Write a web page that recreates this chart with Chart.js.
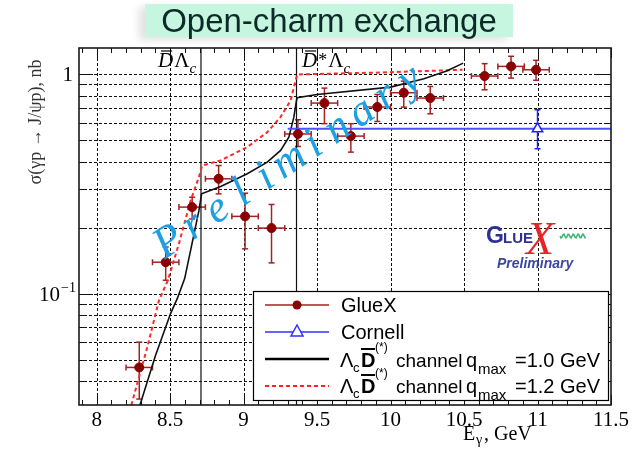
<!DOCTYPE html>
<html>
<head>
<meta charset="utf-8">
<script src="https://cdn.jsdelivr.net/npm/chart.js@4.4.0/dist/chart.umd.min.js"></script>
<style>
  html, body { margin: 0; padding: 0; background: #fff; }
  #wrap { position: relative; width: 637px; height: 450px; }
  canvas { position: absolute; left: 0; top: 0; }
  #title {
    position: absolute; left: 145px; top: 4px; width: 368px; height: 33px;
    background: #c6f6e0; color: #0c2b28; text-align: center;
    font: 33px "Liberation Sans", Arial, sans-serif; line-height: 33px;
    box-shadow: -6px 3px 8px rgba(0,0,0,0.12);
  }
</style>
</head>
<body>
<div id="wrap">
  <canvas id="chart" width="637" height="450"></canvas>
  <div id="title">Open-charm exchange</div>
</div>
<script>
// axis ranges and ticks
const xRange = [7.88, 11.5];
const yRange = [0.031, 1.32];
const xTickVals = [8, 8.5, 9, 9.5, 10, 10.5, 11, 11.5];
const xGridVals = [8, 8.5, 9, 9.5, 10, 10.5, 11];
const yGridVals = [0.04, 0.05, 0.06, 0.07, 0.08, 0.09, 0.1, 0.2, 0.3, 0.4, 0.5, 0.6, 0.7, 0.8, 0.9, 1];

// GlueX points (E, sigma, lower / upper error ends)
const gluexE     = [8.29, 8.47, 8.65, 8.83, 9.01, 9.19, 9.37, 9.55, 9.73, 9.91, 10.09, 10.27, 10.64, 10.82, 10.99];
const gluexSigma = [0.046, 0.139, 0.248, 0.334, 0.225, 0.199, 0.535, 0.74, 0.523, 0.71, 0.825, 0.78, 0.983, 1.088, 1.05];
const gluexLo    = [0.033, 0.115, 0.219, 0.285, 0.160, 0.138, 0.469, 0.596, 0.442, 0.61, 0.709, 0.661, 0.851, 0.962, 0.94];
const gluexHi    = [0.060, 0.163, 0.275, 0.384, 0.287, 0.255, 0.621, 0.866, 0.596, 0.81, 0.932, 0.881, 1.12, 1.21, 1.16];
const gluexEErr  = 0.09;

// Cornell point and its level line
const cornellE = [11.0];
const cornellSigma = [0.565];
const cornellLo = [0.458];
const cornellHi = [0.69];
const cornellLineE = [9.3, 11.5];

// model curves
const model10E = [8.295, 8.40, 8.503, 8.549, 8.599, 8.639, 8.696, 8.714, 8.844, 9.025, 9.161, 9.252, 9.308, 9.342, 9.36, 9.365, 9.5, 10.0, 10.227, 10.386, 10.494];
const model10S = [0.031, 0.052, 0.081, 0.095, 0.117, 0.157, 0.239, 0.285, 0.308, 0.352, 0.398, 0.45, 0.517, 0.638, 0.76, 0.783, 0.81, 0.875, 0.956, 1.04, 1.126];
const model12E = [8.236, 8.345, 8.424, 8.485, 8.56, 8.64, 8.696, 8.718, 8.844, 9.025, 9.161, 9.252, 9.32, 9.342, 9.365, 9.932, 10.49];
const model12S = [0.031, 0.057, 0.093, 0.115, 0.169, 0.266, 0.34, 0.384, 0.405, 0.466, 0.545, 0.64, 0.76, 0.875, 1.0, 1.02, 1.05];

// thresholds
const thresholdE = [8.71, 9.36];

const toPts = (xs, ys) => xs.map((x, i) => ({ x: x, y: ys[i] }));

const SERIF = '"Liberation Serif", "Times New Roman", serif';
const SANS = '"Liberation Sans", Arial, sans-serif';

function seg(ctx, x0, y0, x1, y1) {
  ctx.beginPath(); ctx.moveTo(x0, y0); ctx.lineTo(x1, y1); ctx.stroke();
}

function errorBars(ctx, x, y, es, ss, lo, hi, dx, color) {
  ctx.strokeStyle = color; ctx.lineWidth = 1.5; ctx.setLineDash([]);
  es.forEach((e, i) => {
    const px = x.getPixelForValue(e), py = y.getPixelForValue(ss[i]);
    const y0 = y.getPixelForValue(lo[i]), y1 = y.getPixelForValue(hi[i]);
    seg(ctx, px, y0, px, y1);
    seg(ctx, px - 3, y0, px + 3, y0);
    seg(ctx, px - 3, y1, px + 3, y1);
    if (dx > 0) {
      const x0 = x.getPixelForValue(e - dx), x1 = x.getPixelForValue(e + dx);
      seg(ctx, x0, py, x1, py);
      seg(ctx, x0, py - 3, x0, py + 3);
      seg(ctx, x1, py - 3, x1, py + 3);
    }
  });
}

const decor = {
  id: 'decor',
  beforeDatasetsDraw(chart) {
    const { ctx, chartArea: a, scales: { x, y } } = chart;
    ctx.save();
    // dashed grid
    ctx.strokeStyle = '#111'; ctx.lineWidth = 1; ctx.setLineDash([3, 2]);
    xGridVals.forEach(v => {
      const px = Math.round(x.getPixelForValue(v)) + 0.5;
      seg(ctx, px, a.top, px, a.bottom);
    });
    yGridVals.forEach(v => {
      const py = Math.round(y.getPixelForValue(v)) + 0.5;
      seg(ctx, a.left, py, a.right, py);
    });
    ctx.setLineDash([]);
    // ticks on the frame
    ctx.strokeStyle = '#111'; ctx.lineWidth = 1;
    for (let k = 79; k <= 115; k++) {
      const v = k / 10;
      const px = Math.round(x.getPixelForValue(v)) + 0.5;
      const len = (k % 5 === 0) ? 10 : 5;
      seg(ctx, px, a.bottom, px, a.bottom - len);
      seg(ctx, px, a.top, px, a.top + len);
    }
    yGridVals.forEach(v => {
      const py = Math.round(y.getPixelForValue(v)) + 0.5;
      const len = (v === 1 || v === 0.1) ? 14 : 7;
      seg(ctx, a.left, py, a.left + len, py);
      seg(ctx, a.right, py, a.right - len, py);
    });
    // error bars
    errorBars(ctx, x, y, gluexE, gluexSigma, gluexLo, gluexHi, gluexEErr, '#a52222');
    errorBars(ctx, x, y, cornellE, cornellSigma, cornellLo, cornellHi, 0, '#2020ff');
    ctx.restore();
  },
  afterDraw(chart) {
    const { ctx, chartArea: a, scales: { x, y } } = chart;
    ctx.save();
    // frame
    ctx.strokeStyle = '#1a1a1a'; ctx.lineWidth = 1.6;
    ctx.strokeRect(a.left, a.top, a.right - a.left, a.bottom - a.top);

    // y tick labels
    ctx.fillStyle = '#000'; ctx.textBaseline = 'alphabetic';
    ctx.font = '21px ' + SERIF; ctx.textAlign = 'right';
    ctx.fillText('1', 73, y.getPixelForValue(1) + 7);
    const p1 = y.getPixelForValue(0.1) + 7;
    ctx.font = '14px ' + SERIF;
    ctx.fillText('\u22121', 76, p1 - 9);
    const supW = ctx.measureText('\u22121').width;
    ctx.font = '21px ' + SERIF;
    ctx.fillText('10', 76 - supW - 1, p1);

    // axis titles
    ctx.textAlign = 'left';
    ctx.font = '20px ' + SERIF;
    ctx.fillText('E', 463, 440);
    ctx.font = '14px ' + SERIF;
    ctx.fillText('\u03b3', 476, 444);
    ctx.font = '20px ' + SERIF;
    ctx.fillText(', GeV', 484, 440);

    ctx.save();
    ctx.translate(41, 122); ctx.rotate(-Math.PI / 2);
    ctx.textAlign = 'center'; ctx.fillStyle = '#333';
    ctx.font = '18px ' + SERIF;
    ctx.fillText('\u03c3(\u03b3p \u2192 J/\u03c8p), nb', 0, 0);
    ctx.restore();

    // threshold labels
    ctx.fillStyle = '#000';
    const thrLabel = (x0, star) => {
      ctx.font = 'italic 21px ' + SERIF;
      ctx.fillText('D', x0, 67);
      const dw = ctx.measureText('D').width;
      ctx.lineWidth = 1.2; ctx.strokeStyle = '#000';
      seg(ctx, x0 + 3, 51, x0 + dw - 1, 51);
      let cx = x0 + dw + 1;
      if (star) {
        ctx.font = '18px ' + SERIF;
        ctx.fillText('*', cx, 66);
        cx += ctx.measureText('*').width + 1;
      }
      ctx.font = '21px ' + SERIF;
      ctx.fillText('\u039b', cx, 67);
      cx += ctx.measureText('\u039b').width;
      ctx.font = 'italic 15px ' + SERIF;
      ctx.fillText('c', cx, 73);
    };
    thrLabel(158, false);
    thrLabel(302, true);

    // legend box
    const lb = { l: 253, t: 291, r: 608, b: 400 };
    ctx.fillStyle = '#fff';
    ctx.fillRect(lb.l, lb.t, lb.r - lb.l, lb.b - lb.t);
    ctx.strokeStyle = '#000'; ctx.lineWidth = 1.2;
    ctx.strokeRect(lb.l + 0.5, lb.t + 0.5, lb.r - lb.l, lb.b - lb.t);

    const symL = 265, symR = 329, symC = 297;
    // GlueX
    ctx.strokeStyle = '#a52222'; ctx.lineWidth = 1.5;
    seg(ctx, symL, 305, symR, 305);
    ctx.fillStyle = '#8b0000';
    ctx.beginPath(); ctx.arc(symC, 305, 4.5, 0, Math.PI * 2); ctx.fill();
    // Cornell
    ctx.strokeStyle = '#3030ff';
    seg(ctx, symL, 332, symR, 332);
    ctx.fillStyle = '#fff';
    ctx.beginPath(); ctx.moveTo(symC, 325); ctx.lineTo(symC + 6, 336); ctx.lineTo(symC - 6, 336); ctx.closePath();
    ctx.fill(); ctx.lineWidth = 1.5; ctx.stroke();
    // model lines
    ctx.strokeStyle = '#000'; ctx.lineWidth = 2.5;
    seg(ctx, symL, 359, symR, 359);
    ctx.strokeStyle = '#ff2020'; ctx.lineWidth = 2; ctx.setLineDash([4, 3]);
    seg(ctx, symL, 386, symR, 386);
    ctx.setLineDash([]);

    ctx.fillStyle = '#000'; ctx.textAlign = 'left';
    ctx.font = '20px ' + SANS;
    ctx.fillText('GlueX', 341, 312);
    ctx.fillText('Cornell', 341, 339);
    const modelRow = (base, q) => {
      ctx.font = '20px ' + SANS;
      ctx.fillText('\u039b', 340, base);
      ctx.font = '13px ' + SANS;
      ctx.fillText('c', 353, base + 5);
      ctx.font = 'bold 20px ' + SANS;
      ctx.fillText('D', 361, base);
      ctx.lineWidth = 2; ctx.strokeStyle = '#000';
      seg(ctx, 361, base - 18, 375, base - 18);
      ctx.font = '12px ' + SANS;
      ctx.fillText('(*)', 375, base - 16);
      ctx.font = '19px ' + SANS;
      ctx.fillText('channel', 396, base);
      ctx.font = '20px ' + SANS;
      ctx.fillText('q', 466, base);
      ctx.font = '15px ' + SANS;
      ctx.fillText('max', 478, base + 7);
      ctx.font = '20px ' + SANS;
      ctx.fillText('=' + q + ' GeV', 515, base);
    };
    modelRow(367, '1.0');
    modelRow(393, '1.2');

    // GlueX logo
    ctx.fillStyle = '#2e3192';
    ctx.font = 'bold 23px ' + SANS;
    ctx.fillText('G', 486, 243);
    ctx.font = 'bold 15px ' + SANS;
    ctx.fillText('LUE', 503, 243);
    ctx.strokeStyle = '#3cb371'; ctx.lineWidth = 1.5;
    ctx.beginPath();
    for (let k = 0; k <= 26; k++) {
      const px = 560 + k, py = 236 + 2 * Math.sin(k * 1.3);
      if (k === 0) ctx.moveTo(px, py); else ctx.lineTo(px, py);
    }
    ctx.stroke();
    ctx.fillStyle = '#e4242a';
    ctx.font = 'italic 46px ' + SERIF;
    ctx.fillText('X', 526, 254);
    ctx.fillStyle = '#3a47a0';
    ctx.font = 'italic bold 14px ' + SANS;
    ctx.fillText('Preliminary', 497, 268);

    // Preliminary watermark
    ctx.save();
    ctx.translate(176, 252);
    ctx.rotate(-34 * Math.PI / 180);
    ctx.fillStyle = '#1c9fe4';
    ctx.font = 'italic 44px ' + SERIF;
    ctx.textAlign = 'center';
    'Preliminary'.split('').forEach((ch, i) => ctx.fillText(ch, i * 29, 0));
    ctx.restore();

    ctx.restore();
  }
};

new Chart(document.getElementById('chart'), {
  type: 'scatter',
  data: {
    datasets: [
      {
        label: 'GlueX', data: toPts(gluexE, gluexSigma), order: 0,
        pointRadius: 4.5, backgroundColor: '#8b0000', borderColor: '#8b0000', showLine: false
      },
      {
        label: 'Cornell', data: toPts(cornellE, cornellSigma), order: 1,
        pointStyle: 'triangle', pointRadius: 6, borderWidth: 1.5,
        backgroundColor: '#fff', borderColor: '#2020ff', showLine: false
      },
      {
        label: 'Cornell level', data: toPts(cornellLineE, cornellLineE.map(() => cornellSigma[0])), order: 2,
        showLine: true, pointRadius: 0, borderColor: '#5050ff', borderWidth: 2
      },
      {
        label: 'qmax=1.0', data: toPts(model10E, model10S), order: 3,
        showLine: true, pointRadius: 0, borderColor: '#111', borderWidth: 1.6, tension: 0
      },
      {
        label: 'qmax=1.2', data: toPts(model12E, model12S), order: 4,
        showLine: true, pointRadius: 0, borderColor: '#ff2828', borderWidth: 2, borderDash: [4, 3], tension: 0
      },
      {
        label: 'thr1', data: toPts([thresholdE[0], thresholdE[0]], yRange), order: 5,
        showLine: true, pointRadius: 0, borderColor: '#111', borderWidth: 1.2
      },
      {
        label: 'thr2', data: toPts([thresholdE[1], thresholdE[1]], yRange), order: 5,
        showLine: true, pointRadius: 0, borderColor: '#111', borderWidth: 1.2
      }
    ]
  },
  options: {
    responsive: false,
    animation: false,
    events: [],
    layout: { padding: { left: 0, top: 48, right: 26, bottom: 0 } },
    plugins: { legend: { display: false }, tooltip: { enabled: false } },
    scales: {
      x: {
        type: 'linear', min: xRange[0], max: xRange[1],
        afterBuildTicks: s => { s.ticks = xTickVals.map(v => ({ value: v })); },
        afterFit: s => { s.height = 45; },
        grid: { display: false, drawTicks: false },
        border: { display: false },
        ticks: {
          autoSkip: false, maxRotation: 0, padding: 3, color: '#000',
          font: { family: 'Liberation Serif', size: 21 },
          callback: v => String(v)
        }
      },
      y: {
        type: 'logarithmic', min: yRange[0], max: yRange[1],
        afterFit: s => { s.width = 79; },
        grid: { display: false, drawTicks: false },
        border: { display: false },
        ticks: { display: false }
      }
    }
  },
  plugins: [decor]
});
</script>
</body>
</html>
